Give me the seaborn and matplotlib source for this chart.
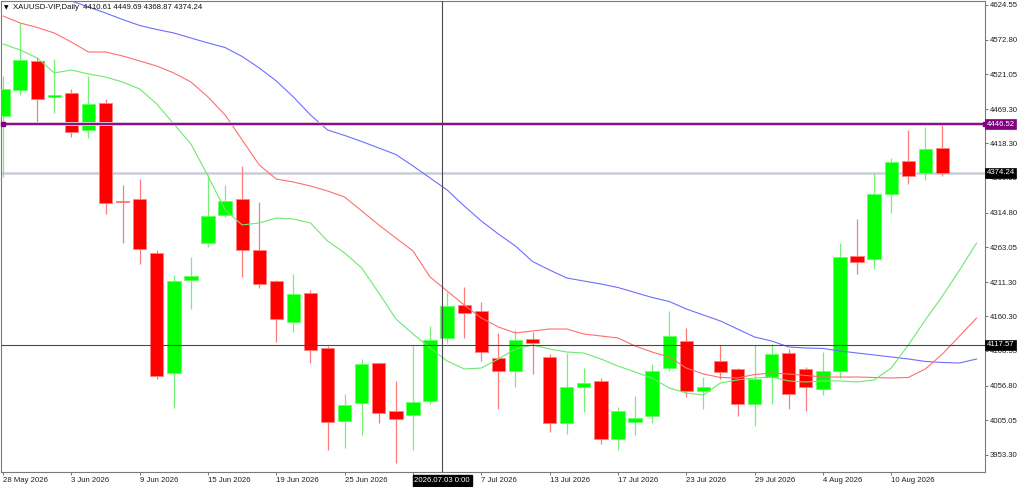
import matplotlib
matplotlib.use("Agg")
import matplotlib.pyplot as plt
import matplotlib.transforms as mtransforms
import seaborn as sns
import numpy as np

# ---------------- data ----------------
opens = [4459, 4497, 4541, 4488, 4493, 4438, 4478, 4332, 4335, 4254,
         4076, 4214, 4270, 4311, 4335, 4259, 4213, 4152, 4195, 4113,
         4004, 4031, 4090, 4019, 4013, 4034, 4128, 4177, 4168, 4098,
         4079, 4126, 4100, 4001, 4054, 4063, 3977, 4002, 4012, 4083,
         4123, 4049, 4093, 4081, 4029, 4069, 4106, 4081, 4052, 4079,
         4250, 4246, 4343, 4392, 4374, 4410.61]
highs = [4519, 4597, 4547, 4544, 4499, 4518, 4484, 4356, 4365, 4259,
         4222, 4248, 4371, 4356, 4384, 4331, 4214, 4223, 4199, 4116,
         4045, 4097, 4091, 4064, 4116, 4146, 4197, 4204, 4182, 4135,
         4139, 4136, 4104, 4105, 4083, 4068, 4025, 4042, 4089, 4168,
         4142, 4070, 4117, 4083, 4117, 4119, 4112, 4085, 4107, 4270,
         4305, 4374, 4397, 4438, 4443, 4449.69]
lows = [4368, 4490, 4448, 4464, 4428, 4426, 4313, 4269, 4238, 4067,
        4024, 4171, 4264, 4308, 4219, 4202, 4122, 4136, 4091, 3960,
        3963, 3983, 4001, 3942, 3960, 4030, 4121, 4128, 4093, 4022,
        4055, 4074, 3987, 3984, 4018, 3970, 3960, 3983, 4001, 4078,
        4040, 4022, 4066, 4012, 3996, 4029, 4022, 4019, 4043, 4068,
        4224, 4231, 4314, 4358, 4364, 4368.87]
closes = [4499, 4542, 4485, 4490, 4435, 4477, 4329, 4330, 4261, 4071,
          4213, 4220, 4310, 4332, 4259, 4209, 4156, 4194, 4110, 4002,
          4028, 4089, 4016, 4007, 4033, 4125, 4176, 4165, 4107, 4078,
          4125, 4120, 4001, 4054, 4061, 3977, 4019, 4009, 4079, 4131,
          4049, 4054, 4077, 4029, 4067, 4104, 4044, 4055, 4079, 4248,
          4241, 4342, 4391, 4370, 4410, 4374.24]

ma_blue = [4666.3, 4657.4, 4648.4, 4639.5, 4630.5, 4621.6, 4612.6, 4602.9, 4594.0, 4588.0,
           4582.8, 4575.3, 4567.9, 4561.1, 4547.7, 4530.6, 4511.2, 4487.3, 4460.5, 4438.1,
           4429.9, 4420.9, 4411.2, 4401.5, 4384.4, 4366.5, 4348.6, 4324.7, 4302.3, 4282.9,
           4265.0, 4241.9, 4229.2, 4217.3, 4212.8, 4208.4, 4203.1, 4195.7, 4188.2, 4182.3,
           4171.1, 4162.1, 4153.2, 4141.2, 4129.3, 4123.3, 4114.4, 4112.9, 4112.2, 4108.4,
           4105.4, 4102.5, 4099.5, 4096.5, 4092.8, 4091.3, 4090.5, 4096.5]
ma_red = [4608.1, 4597.7, 4591.0, 4582.8, 4569.3, 4554.4, 4554.4, 4548.5, 4541.0, 4533.5,
          4523.1, 4509.7, 4487.3, 4460.5, 4423.2, 4385.9, 4364.9, 4360.5, 4354.5, 4347.1,
          4338.1, 4317.3, 4296.4, 4276.9, 4257.6, 4218.8, 4197.9, 4177.0, 4157.6, 4144.2,
          4135.3, 4138.3, 4141.2, 4141.2, 4133.8, 4130.8, 4127.8, 4115.9, 4106.9, 4099.5,
          4083.0, 4074.1, 4068.9, 4068.1, 4073.4, 4075.6, 4074.1, 4071.9, 4069.6, 4069.6,
          4069.6, 4068.9, 4068.1, 4068.9, 4081.6, 4103.9, 4130.8, 4157.6]
ma_green = [4566.4, 4557.4, 4545.5, 4523.1, 4527.6, 4521.6, 4517.1, 4509.7, 4499.2, 4476.9,
            4447.0, 4417.2, 4369.5, 4318.8, 4296.4, 4299.4, 4306.8, 4305.3, 4299.4, 4272.5,
            4254.6, 4232.3, 4194.9, 4156.2, 4133.8, 4112.9, 4093.5, 4081.6, 4083.0, 4096.5,
            4111.4, 4117.4, 4111.4, 4106.9, 4105.4, 4096.5, 4086.0, 4077.1, 4068.1, 4053.2,
            4045.8, 4042.8, 4060.7, 4065.2, 4068.1, 4069.6, 4063.7, 4062.2, 4063.7, 4063.7,
            4062.2, 4065.2, 4083.0, 4117.4, 4154.7, 4190.5, 4229.2, 4269.5]

date_labels = ["28 May 2026", "3 Jun 2026", "9 Jun 2026", "15 Jun 2026", "19 Jun 2026",
               "25 Jun 2026", "1 Jul 2026", "7 Jul 2026", "13 Jul 2026", "17 Jul 2026",
               "23 Jul 2026", "29 Jul 2026", "4 Aug 2026", "10 Aug 2026"]
price_ticks = [4624.55, 4572.80, 4521.05, 4469.30, 4418.30, 4366.55, 4314.80,
               4263.05, 4211.30, 4160.30, 4108.55, 4056.80, 4005.05, 3953.30]
level_purple = 4446.52
level_last = 4374.24
cross_price = 4117.57
cross_bar = 25.7
cross_label = "2026.07.03 0:00"
title_text = "XAUUSD-VIP,Daily  4410.61 4449.69 4368.87 4374.24"

# ---------------- style ----------------
sns.set_theme(style="white")
plt.rcParams["font.family"] = ["Liberation Sans", "DejaVu Sans"]
FS = 5.6

W, H = 1024, 487
fig = plt.figure(figsize=(W / 100, H / 100), dpi=100)
fig.patch.set_facecolor("white")
ax = fig.add_axes([1 / W, 15 / H, 984 / W, 471 / H])
ax.set_facecolor("white")

n = len(opens)
x = np.arange(n)
o = np.array(opens, float)
c = np.array(closes, float)
hi = np.array(highs, float)
lo = np.array(lows, float)
bull = c >= o

body_col = np.where(bull, "#00ff00", "#ff0000")
edge_col = np.where(bull, "#66ff66", "#ff8080")
wick_col = np.where(bull, "#77f077", "#ff7a7a")

ax.vlines(x, lo, hi, colors=wick_col, linewidth=0.9, zorder=2)
heights = np.maximum(np.abs(c - o), 1.6)
bottoms = np.minimum(o, c)
ax.bar(x, heights, bottom=bottoms, width=0.78, color=body_col,
       edgecolor=edge_col, linewidth=0.6, zorder=3)

# moving averages
xm = np.arange(len(ma_blue))
sns.lineplot(x=xm, y=ma_blue, ax=ax, color="#6e6eff", linewidth=0.8, zorder=4)
sns.lineplot(x=xm, y=ma_red, ax=ax, color="#ff6e6e", linewidth=0.8, zorder=4)
sns.lineplot(x=xm, y=ma_green, ax=ax, color="#6ee86e", linewidth=0.8, zorder=4)

# horizontal levels
ax.axhline(level_last, color="#c9cfd6", linewidth=1.8, zorder=1)
ax.axhline(level_purple, color="#d9c2d9", linewidth=2.8, zorder=5)
ax.axhline(level_purple, color="#800080", linewidth=1.3, zorder=6)
trans_ay = mtransforms.blended_transform_factory(ax.transAxes, ax.transData)
ax.plot([0.002, 1.0], [level_purple, level_purple], marker="s", markersize=3,
        color="#800080", linestyle="none", transform=trans_ay, zorder=7, clip_on=False)

# crosshair
ax.axhline(cross_price, color="#4a4a4a", linewidth=0.8, zorder=8)
ax.axvline(cross_bar, color="#4a4a4a", linewidth=0.8, zorder=8)

# axes
ax.set_xlim(-0.12, 57.49)
ax.set_ylim(3927.9, 4630.5)
ax.yaxis.tick_right()
ax.set_yticks(price_ticks)
ax.set_yticklabels([f"{v:.2f}" for v in price_ticks], fontsize=FS, color="#202020")
tick_pos = list(range(0, 4 * len(date_labels), 4))
ax.set_xticks(tick_pos)
shown = [lab if lab != "1 Jul 2026" else "" for lab in date_labels]
ax.set_xticklabels(shown, fontsize=FS, color="#202020", ha="left")
ax.tick_params(axis="both", direction="out", length=2.5, width=0.6, color="#606060",
               pad=1.2, bottom=True, right=True, left=False)
for lab in ax.get_xticklabels():
    lab.set_horizontalalignment("left")
for side in ["top", "bottom", "left", "right"]:
    ax.spines[side].set_color("#7a7a7a")
    ax.spines[side].set_linewidth(0.8)
ax.grid(False)
ax.set_xlabel("")
ax.set_ylabel("")

# right price labels
def price_box(val, bg):
    ax.text(1.0015, val, f"{val:.2f}", transform=trans_ay, fontsize=FS, color="white",
            va="center", ha="left", zorder=10, clip_on=False,
            bbox=dict(boxstyle="square,pad=0.18", facecolor=bg, edgecolor=bg, linewidth=0.5))

price_box(level_purple, "#800080")
price_box(level_last, "#000000")
price_box(cross_price, "#000000")

# crosshair date label
trans_xa = mtransforms.blended_transform_factory(ax.transData, ax.transAxes)
ax.text(cross_bar - 1.62, -0.0105, cross_label, transform=trans_xa, fontsize=FS,
        color="white", ha="left", va="top", zorder=10, clip_on=False,
        bbox=dict(boxstyle="square,pad=0.2", facecolor="black", edgecolor="black"))

# title
fig.text(4 / W, 1 - 7.5 / H, "\u25bc", fontsize=4.2, color="black", va="center",
         ha="left", family=["DejaVu Sans"])
fig.text(13 / W, 1 - 7.5 / H, title_text, fontsize=FS, color="#101010", va="center", ha="left")

fig.savefig("out.png", dpi=100, facecolor="white")
